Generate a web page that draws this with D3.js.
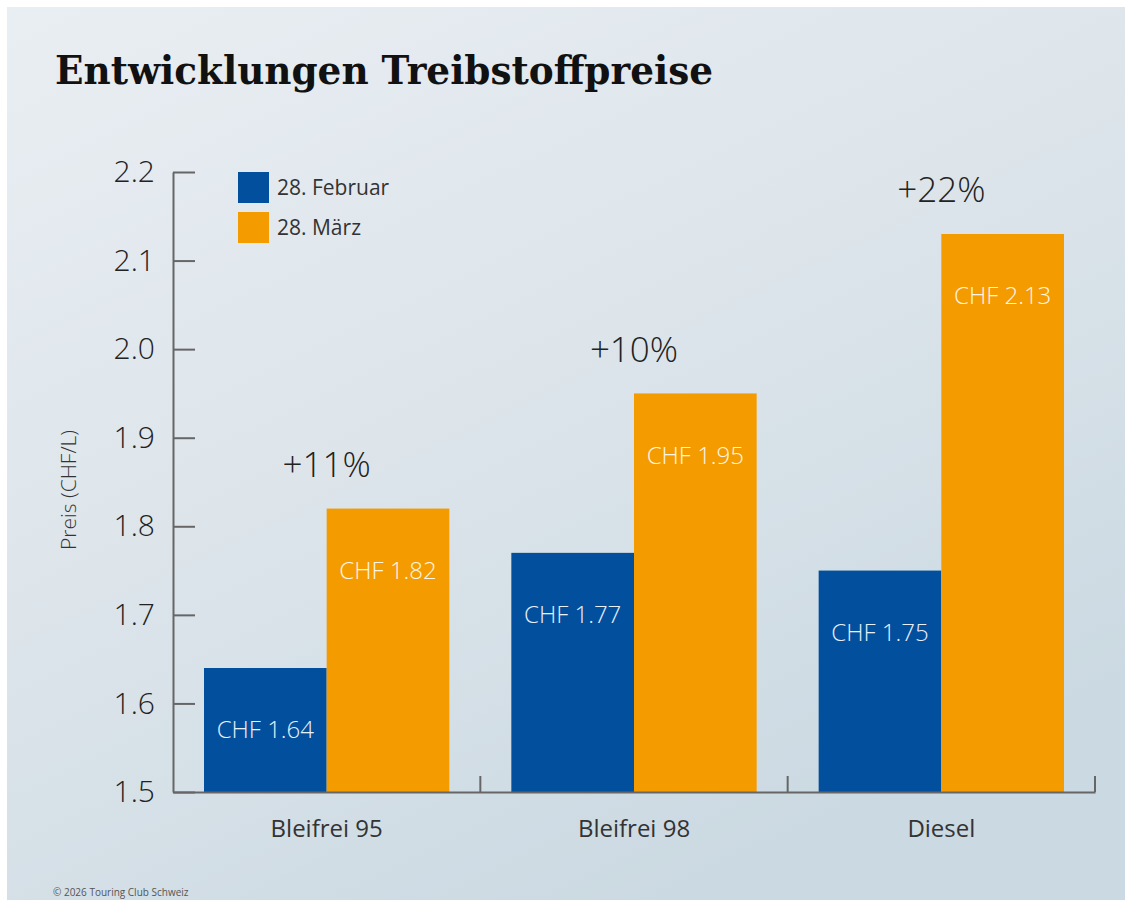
<!DOCTYPE html>
<html>
<head>
<meta charset="utf-8">
<script src="https://cdn.jsdelivr.net/npm/d3@7/dist/d3.min.js"></script>
<style>
  html, body { margin: 0; padding: 0; background: #fff; }
  svg { display: block; }
  .sans { font-family: "Open Sans", "Lato", sans-serif; font-weight: 300; }
</style>
</head>
<body>
<div class="result"></div>
<script>
// Data
const categories = ['Bleifrei 95', 'Bleifrei 98', 'Diesel'];
const series = ['28. Februar', '28. März'];
const february = [1.64, 1.77, 1.75];
const march = [1.82, 1.95, 2.13];
const changes = ['+11%', '+10%', '+22%'];
const yTicks = [1.5, 1.6, 1.7, 1.8, 1.9, 2.0, 2.1, 2.2];
const colors = ['#024f9e', '#f49b00'];

// Size
const w = 1132;
const h = 900;
const plotLeft = 173, plotRight = 1095, plotTop = 172, plotBottom = 792;

const svg = d3.select('.result')
  .append('svg')
  .attr('width', w)
  .attr('height', h);

// Background gradient
const defs = svg.append('defs');
const grad = defs.append('linearGradient')
  .attr('id', 'bg')
  .attr('x1', '0').attr('y1', '0')
  .attr('x2', '0.6').attr('y2', '1');
grad.append('stop').attr('offset', '0').attr('stop-color', '#e9eef2');
grad.append('stop').attr('offset', '0.5').attr('stop-color', '#dde5eb');
grad.append('stop').attr('offset', '1').attr('stop-color', '#cbd9e2');

svg.append('rect')
  .attr('x', 7).attr('y', 7)
  .attr('width', w - 14).attr('height', h - 7)
  .attr('fill', 'url(#bg)');

// Title
svg.append('text')
  .attr('x', 55)
  .attr('y', 84)
  .attr('font-family', '"DejaVu Serif", serif')
  .attr('font-weight', 'bold')
  .attr('font-size', 40)
  .attr('textLength', 658)
  .attr('lengthAdjust', 'spacingAndGlyphs')
  .attr('fill', '#111')
  .text('Entwicklungen Treibstoffpreise');

// Scales
const x0 = d3.scaleBand()
  .domain(categories)
  .range([plotLeft, plotRight]);

const x1 = d3.scaleBand()
  .domain(series)
  .range([31, x0.bandwidth() - 31]);

const y = d3.scaleLinear()
  .domain([1.5, 2.2])
  .range([plotBottom, plotTop]);

// Bars
const rows = categories.map(function (c, i) {
  return { cat: c, values: [february[i], march[i]], change: changes[i] };
});

const groups = svg.selectAll('g.group')
  .data(rows)
  .enter()
  .append('g')
  .attr('class', 'group')
  .attr('transform', function (d) { return 'translate(' + x0(d.cat) + ',0)'; });

groups.selectAll('rect')
  .data(function (d) { return d.values.map(function (v, j) { return { s: series[j], v: v, j: j }; }); })
  .enter()
  .append('rect')
  .attr('x', function (d) { return x1(d.s); })
  .attr('y', function (d) { return y(d.v); })
  .attr('width', x1.bandwidth())
  .attr('height', function (d) { return y(1.5) - y(d.v); })
  .attr('fill', function (d) { return colors[d.j]; });

// Value labels in bars
groups.selectAll('text.val')
  .data(function (d) { return d.values.map(function (v, j) { return { s: series[j], v: v, j: j }; }); })
  .enter()
  .append('text')
  .attr('class', 'val sans')
  .attr('x', function (d) { return x1(d.s) + x1.bandwidth() / 2; })
  .attr('y', function (d) { return y(d.v) + 62; })
  .attr('dy', '0.35em')
  .attr('text-anchor', 'middle')
  .attr('font-size', 24)
  .attr('fill', function (d) { return d.j === 0 ? '#e8f0fa' : '#fff6e6'; })
  .text(function (d) { return 'CHF ' + d.v.toFixed(2); });

// Percent change labels
groups.append('text')
  .attr('class', 'sans')
  .attr('x', x0.bandwidth() / 2)
  .attr('y', function (d) { return y(d3.max(d.values)) - 44; })
  .attr('dy', '0.35em')
  .attr('text-anchor', 'middle')
  .attr('font-size', 35)
  .attr('fill', '#222')
  .text(function (d) { return d.change; });

// Y axis
const yAxis = d3.axisLeft(y)
  .tickValues(yTicks)
  .tickFormat(d3.format('.1f'))
  .tickSizeInner(-22)
  .tickSizeOuter(0)
  .tickPadding(18);

const gy = svg.append('g')
  .attr('transform', 'translate(' + plotLeft + ',0)')
  .call(yAxis);
gy.select('.domain').attr('stroke', '#666').attr('stroke-width', 2);
gy.selectAll('.tick line').attr('stroke', '#666').attr('stroke-width', 2);
gy.selectAll('.tick text')
  .attr('class', 'sans')
  .attr('font-size', 30)
  .attr('fill', '#222');

// X axis: baseline, boundary ticks and centred labels
const xAxis = d3.axisBottom(x0)
  .tickSize(0)
  .tickPadding(28);

const gx = svg.append('g')
  .attr('transform', 'translate(0,' + plotBottom + ')')
  .call(xAxis);
gx.select('.domain').attr('stroke', '#666').attr('stroke-width', 2);
gx.selectAll('.tick text')
  .attr('class', 'sans')
  .attr('font-size', 24)
  .style('font-weight', 400)
  .attr('fill', '#333');

gx.selectAll('line.bound')
  .data(categories)
  .enter()
  .append('line')
  .attr('class', 'bound')
  .attr('x1', function (d) { return x0(d) + x0.step(); })
  .attr('x2', function (d) { return x0(d) + x0.step(); })
  .attr('y1', 0)
  .attr('y2', -16)
  .attr('stroke', '#666')
  .attr('stroke-width', 2);

// Y axis title
svg.append('text')
  .attr('class', 'sans')
  .attr('transform', 'translate(76,490) rotate(-90)')
  .attr('text-anchor', 'middle')
  .attr('font-size', 21)
  .attr('fill', '#333')
  .text('Preis (CHF/L)');

// Legend
const legend = svg.append('g')
  .attr('transform', 'translate(238,172)');

const items = legend.selectAll('g')
  .data(series)
  .enter()
  .append('g')
  .attr('transform', function (d, i) { return 'translate(0,' + i * 40 + ')'; });

items.append('rect')
  .attr('width', 31)
  .attr('height', 31)
  .attr('fill', function (d, i) { return colors[i]; });

items.append('text')
  .attr('class', 'sans')
  .attr('x', 39)
  .attr('y', 16)
  .attr('dy', '0.35em')
  .attr('font-size', 21)
  .style('font-weight', 400)
  .attr('fill', '#333')
  .text(function (d) { return d; });

// Footer
svg.append('text')
  .attr('class', 'sans')
  .attr('x', 53)
  .attr('y', 896)
  .attr('font-size', 10)
  .style('font-weight', 400)
  .attr('fill', '#555')
  .text('© 2026 Touring Club Schweiz');
</script>
</body>
</html>
